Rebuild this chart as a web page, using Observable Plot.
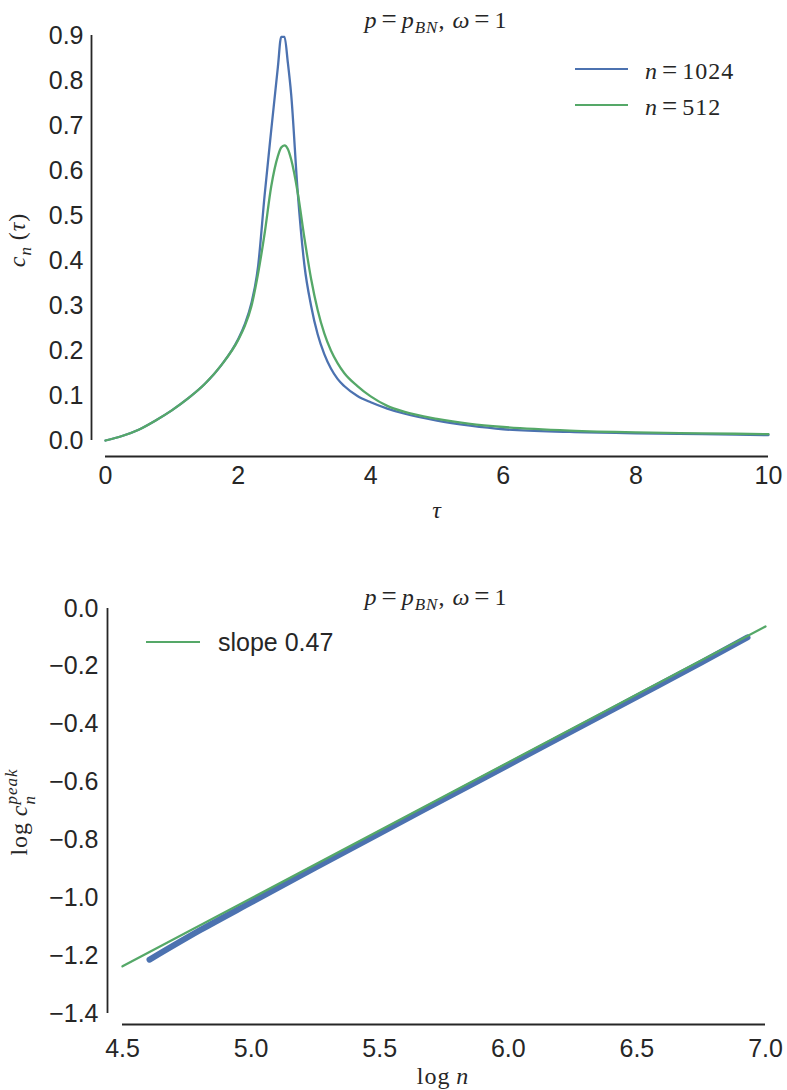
<!DOCTYPE html>
<html>
<head>
<meta charset="utf-8">
<script src="https://cdn.jsdelivr.net/npm/d3@7"></script>
<script src="https://cdn.jsdelivr.net/npm/@observablehq/plot@0.6"></script>
<style>
  body { margin: 0; background: #fff; }
  #fig { position: relative; width: 787px; height: 1090px; background: #fff; overflow: hidden; }
  .abs { position: absolute; white-space: nowrap; color: #262626; }
  .math { font-family: "Liberation Serif", "DejaVu Serif", serif; font-size: 24px; letter-spacing: 1px; }
  .math i { font-style: italic; }
  .math .eq { display: inline-block; margin: 0 4px; font-size: 27px; }
  .math sub, .math .ss { font-size: 17px; letter-spacing: 1px; }
  .sans { font-family: "Liberation Sans", Arial, sans-serif; font-size: 25px; }
  .sw { position: absolute; height: 2.4px; }
</style>
</head>
<body>
<div id="fig"></div>
<script>
// ---------- Data: top panel ----------
const tau = [0, 0.25, 0.5, 0.75, 1.0, 1.25, 1.5, 1.75, 2.0, 2.1, 2.2, 2.3, 2.4, 2.5, 2.6, 2.65, 2.7, 2.75, 2.8, 2.9, 3.0, 3.1, 3.2, 3.3, 3.4, 3.5, 3.6, 3.8, 4.0, 4.25, 4.5, 5.0, 5.5, 6.0, 7.0, 8.0, 9.0, 10.0];
const c1024 = [0, 0.010, 0.024, 0.044, 0.067, 0.094, 0.126, 0.168, 0.225, 0.258, 0.305, 0.385, 0.545, 0.69, 0.83, 0.897, 0.897, 0.84, 0.77, 0.55, 0.39, 0.30, 0.236, 0.192, 0.16, 0.137, 0.121, 0.099, 0.085, 0.071, 0.06, 0.044, 0.033, 0.025, 0.019, 0.016, 0.014, 0.012];
const c512  = [0, 0.010, 0.024, 0.044, 0.067, 0.094, 0.126, 0.168, 0.223, 0.254, 0.298, 0.37, 0.46, 0.565, 0.632, 0.651, 0.656, 0.648, 0.625, 0.55, 0.45, 0.36, 0.29, 0.238, 0.200, 0.172, 0.150, 0.121, 0.098, 0.077, 0.064, 0.048, 0.037, 0.030, 0.022, 0.018, 0.016, 0.014];
const topXTicks = [0, 2, 4, 6, 8, 10];
const topYTicks = [0, 0.1, 0.2, 0.3, 0.4, 0.5, 0.6, 0.7, 0.8, 0.9];

// ---------- Data: bottom panel ----------
const logN = [4.605, 4.8, 5.0, 5.25, 5.5, 5.75, 6.0, 6.25, 6.5, 6.75, 6.93];
const logPeak = [-1.214, -1.113, -1.016, -0.896, -0.777, -0.659, -0.541, -0.423, -0.305, -0.187, -0.100];
const fitX = [4.5, 7.0];
const fitY = [-1.237, -0.062];
const botXTicks = [4.5, 5.0, 5.5, 6.0, 6.5, 7.0];
const botYTicks = [0.0, -0.2, -0.4, -0.6, -0.8, -1.0, -1.2, -1.4];

const BLUE = "#4C72B0", GREEN = "#55A868", INK = "#262626";
const fmt1 = d3.format(".1f");
const tickFont = {fontFamily: "Liberation Sans, Arial, sans-serif", fontSize: "25px", color: INK, background: "transparent", overflow: "visible"};

const fig = document.getElementById("fig");

// ---------- Top plot ----------
const topRows1024 = tau.map((t, i) => ({tau: t, c: c1024[i]}));
const topRows512 = tau.map((t, i) => ({tau: t, c: c512[i]}));

const topPlot = Plot.plot({
  width: 787, height: 480,
  marginLeft: 105, marginRight: 19, marginTop: 35, marginBottom: 40,
  style: tickFont,
  x: {domain: [0, 10]},
  y: {domain: [0, 0.9]},
  marks: [
    Plot.axisX({ticks: topXTicks, tickFormat: d3.format("d"), tickSize: 0, tickPadding: 26, label: null}),
    Plot.axisY({ticks: topYTicks, tickFormat: fmt1, tickSize: 0, tickPadding: 22, label: null}),
    Plot.ruleY([0], {x1: 0, x2: 10, dy: 16, stroke: INK, strokeWidth: 1.8}),
    Plot.ruleX([0], {y1: 0, y2: 0.9, dx: -14, stroke: INK, strokeWidth: 1.8}),
    Plot.line(topRows1024, {x: "tau", y: "c", stroke: BLUE, strokeWidth: 2.3, curve: "monotone-x"}),
    Plot.line(topRows512, {x: "tau", y: "c", stroke: GREEN, strokeWidth: 2.3, curve: "monotone-x"})
  ]
});
topPlot.style.position = "absolute"; topPlot.style.left = "0px"; topPlot.style.top = "0px";
fig.appendChild(topPlot);

// ---------- Bottom plot ----------
const botRows = logN.map((x, i) => ({x, y: logPeak[i]}));
const fitRows = fitX.map((x, i) => ({x, y: fitY[i]}));

const botPlot = Plot.plot({
  width: 787, height: 530,
  marginLeft: 122, marginRight: 22, marginTop: 48, marginBottom: 77,
  style: tickFont,
  x: {domain: [4.5, 7.0]},
  y: {domain: [-1.4, 0]},
  marks: [
    Plot.axisX({ticks: botXTicks, tickFormat: fmt1, tickSize: 0, tickPadding: 26, label: null}),
    Plot.axisY({ticks: botYTicks, tickFormat: fmt1, tickSize: 0, tickPadding: 24, label: null}),
    Plot.ruleY([-1.4], {x1: 4.5, x2: 7.0, dy: 11, stroke: INK, strokeWidth: 1.8}),
    Plot.ruleX([4.5], {y1: -1.4, y2: 0, dx: -15, stroke: INK, strokeWidth: 1.8}),
    Plot.line(botRows, {x: "x", y: "y", stroke: BLUE, strokeWidth: 6, curve: "monotone-x", strokeLinecap: "round"}),
    Plot.line(fitRows, {x: "x", y: "y", stroke: GREEN, strokeWidth: 2.3})
  ]
});
botPlot.style.position = "absolute"; botPlot.style.left = "0px"; botPlot.style.top = "560px";
fig.appendChild(botPlot);

// ---------- Text overlays ----------
function addText(html, cls, x, y, anchor) {
  const d = document.createElement("div");
  d.className = "abs " + cls;
  d.innerHTML = html;
  d.style.left = x + "px";
  d.style.top = y + "px";
  d.style.transform = `translate(${anchor === "start" ? "0" : "-50%"}, -50%)`;
  fig.appendChild(d);
  return d;
}
function addRotated(html, cls, cx, cy) {
  const d = document.createElement("div");
  d.className = "abs " + cls;
  d.innerHTML = html;
  d.style.left = cx + "px";
  d.style.top = cy + "px";
  d.style.transform = "translate(-50%, -50%) rotate(-90deg)";
  fig.appendChild(d);
}
const EQ = '<span class="eq">=</span>';
const titleHTML = `<i>p</i>${EQ}<i>p</i><sub><i>BN</i></sub>, <i>ω</i>${EQ}1`;

addText(titleHTML, "math", 436, 21);
addRotated('<i>c</i><sub><i>n</i></sub>&#8201;(<i>τ</i>)', "math", 20, 240);
addText('<i>τ</i>', "math", 437, 510);

addText(titleHTML, "math", 436, 598);
addRotated('log&#8201;<i>c</i><span class="ss" style="display:inline-block;vertical-align:middle;line-height:1.05;text-align:left;"><span style="display:block;"><i>peak</i></span><span style="display:block;"><i>n</i></span></span>', "math", 21, 812);
addText('log&#8201;<i>n</i>', "math", 443, 1076);

// legends
function swatch(color, x1, x2, y) {
  const s = document.createElement("div");
  s.className = "sw";
  s.style.left = x1 + "px"; s.style.width = (x2 - x1) + "px";
  s.style.top = (y - 1.2) + "px"; s.style.background = color;
  fig.appendChild(s);
}
swatch(BLUE, 575, 628, 69);
addText(`<i>n</i>${EQ}1024`, "math", 645, 70, "start");
swatch(GREEN, 575, 628, 105);
addText(`<i>n</i>${EQ}512`, "math", 645, 106, "start");

swatch(GREEN, 146, 200, 642);
addText('slope 0.47', "sans", 218, 642, "start");
</script>
</body>
</html>
